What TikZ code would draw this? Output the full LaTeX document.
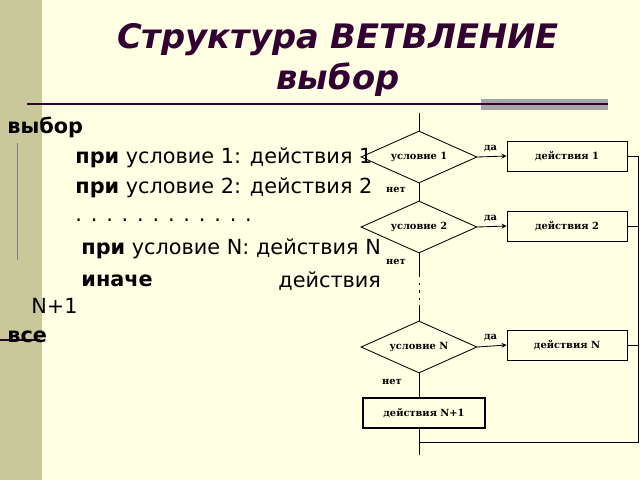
\documentclass[tikz,border=0pt]{standalone}
\usepackage{fontspec}
\setmainfont{DejaVu Sans}
\newfontfamily\chartfont{DejaVu Serif}
\usetikzlibrary{calc, positioning, shapes.geometric}
\definecolor{titlecol}{HTML}{330033}
\definecolor{paper}{HTML}{FFFFE3}
\definecolor{strip}{HTML}{C8C89A}

\begin{document}
\begin{tikzpicture} [x = 0.025cm, y = -0.025cm, >= stealth, line width = 0.6pt,
  cond/.style = {draw, diamond, aspect = 2.2, minimum width = 2.9cm, minimum height = 1.3cm, inner sep = 0pt, font = \chartfont\bfseries\scriptsize},
  act/.style = {draw, rectangle, minimum width = 3cm, minimum height = 0.75cm, font = \chartfont\bfseries\scriptsize},
  lbl/.style = {font = \chartfont\bfseries\scriptsize},
  txt/.style = {anchor = west, inner sep = 0pt, font = \fontsize{14.8}{17}\selectfont}]

% background
\fill [paper] (0,0) rectangle (640,480);
\fill [strip] (0,0) rectangle (42,480);
\useasboundingbox (0,0) rectangle (640,480);

% title
\node [text = titlecol, font = \fontsize{24}{29}\selectfont\bfseries\itshape, align = center] (title) at (338,60) {Структура ВЕТВЛЕНИЕ\\выбор};
\fill [gray!70] (481,99) rectangle (608,110);
\draw [titlecol, line width = 1pt] (27,104) -- (608,104);

% pseudocode
\draw [gray, line width = 0.5pt] (17,143) -- (17,260);
\node [txt] (choose) at (7,127) {\textbf{выбор}};
\node [txt] (when1) at (75,158) {\textbf{при} условие 1: действия 1};
\node [txt] (when2) at (75,188) {\textbf{при} условие 2: действия 2};
\node [txt] (dots) at (75,220) {. . . . . . . . . . . .};
\node [txt] (whenN) at (81,249) {\textbf{при} условие N: действия N};
\node [txt] (other) at (81,281) {\textbf{иначе}};
\node [txt] (otheract) at (278,281) {действия};
\node [txt] (otherN) at (31,306) {N+1};
\draw [titlecol, line width = 1pt] (0,340) -- (40,340);
\node [txt] (done) at (7,337) {\textbf{все}};

% flowchart
\coordinate (top) at (419,113);
\node [cond] (c1) at (419,157) {условие 1};
\node [cond] (c2) at (419,227) {условие 2};
\node [cond] (cN) at (419,347) {условие N};
\node [act] (a1) at (567,156) {действия 1};
\node [act] (a2) at (567,226) {действия 2};
\node [act] (aN) at (567,345) {действия N};
\node [act, line width = 1.2pt, minimum width = 3.05cm] (aN1) at (424,413) {действия N+1};
\coordinate (bottom) at (419,455);
\coordinate (join) at (419,442);
\coordinate (gap1) at (419,275);
\coordinate (gap2) at (419,305);

\draw (top) -- (c1.north);
\draw (c1.south) -- (c2.north);
\draw (c2.south) -- (gap1);
\draw [dash pattern = on 1.5pt off 4pt] (gap1) -- (gap2);
\draw (gap2) -- (cN.north);
\draw (cN.south) -- (aN1.north -| cN.south);
\draw (aN1.south -| join) -- (bottom);

\draw [->] (c1.east) -- node [lbl, above, pos = 0.45] {да} (a1.west);
\draw [->] (c2.east) -- node [lbl, above, pos = 0.45] {да} (a2.west);
\draw [->] (cN.east) -- node [lbl, above, pos = 0.45] {да} (aN.west);
\node [lbl] (no1) at (396,190) {нет};
\node [lbl] (no2) at (396,262) {нет};
\node [lbl] (noN) at (392,382) {нет};

\draw (a1.east) -- ++(11,0) coordinate (r1) |- (join);
\draw (a2.east) -- (a2.east -| r1);
\draw (aN.east) -- (aN.east -| r1);

\end{tikzpicture}
\end{document}
